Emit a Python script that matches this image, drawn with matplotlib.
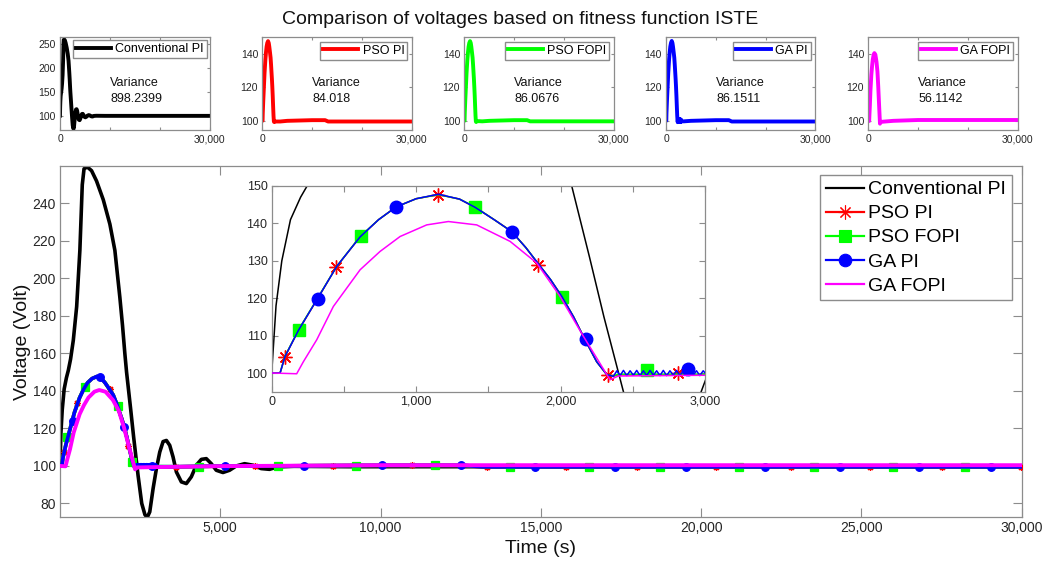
import numpy as np
import matplotlib
matplotlib.use("Agg")
import matplotlib.pyplot as plt
from matplotlib.ticker import FuncFormatter

plt.rcParams['font.family'] = ['Liberation Sans', 'DejaVu Sans']

# ---- data ----
names = ["Conventional PI", "PSO PI", "PSO FOPI", "GA PI", "GA FOPI"]
colors = ["#000000", "#ff0000", "#00ff00", "#0000ff", "#ff00ff"]
variances = ["898.2399", "84.018", "86.0676", "86.1511", "56.1142"]

# Conventional PI
t_conv = [0, 30, 70, 130, 200, 260, 330, 415, 520, 620, 695, 750, 850, 985, 1140, 1350,
          1556, 1712, 1867, 1950, 2023, 2077, 2200, 2300, 2435, 2550, 2650, 2720, 2800,
          2905, 3008, 3112, 3216, 3320, 3423, 3527, 3631, 3786, 3942, 4097, 4253, 4409,
          4564, 4720, 4876, 5083, 5290, 5498, 5757, 6017, 6276, 6535, 6795, 7300, 9000,
          12000, 20000, 30000]
v_conv = [100, 118, 130, 141, 147, 151, 157, 167, 185, 215, 250, 258.5, 259.5, 257.5, 252,
          242, 229, 215, 190, 175, 160, 150, 131, 115, 95, 80, 74, 72.5, 75.5,
          88, 98.6, 107.4, 113, 113.6, 111, 104.8, 96.8, 91.5, 90.6, 94.2, 100.4, 103.5,
          103.9, 101.2, 97.7, 96.5, 97.7, 100, 101.2, 100.4, 98.6, 98.2, 99.5, 99.8, 99.6,
          99.6, 99.6, 99.6]

# optimised controllers, transient part
t_opt = [0, 58, 92, 185, 316, 450, 612, 740, 861, 1000, 1154, 1300, 1408, 1540, 1662,
         1760, 1846, 1930, 2008, 2090, 2169, 2250, 2319, 2365]
v_ga_pi = [100, 100, 104.4, 111.4, 119.8, 128.5, 136.4, 141, 144.4, 146.6, 147.8, 146.5,
           144.3, 141, 137.8, 133.5, 129.2, 125, 120.5, 115, 108.9, 103, 99.6, 99.1]
v_pso_pi = [100, 100, 104.4, 111.4, 119.8, 128.5, 136.4, 141, 144.4, 146.6, 147.7, 146.5,
            144.3, 141, 137.8, 133.5, 129.1, 125, 120.5, 115, 108.9, 103, 99.6, 99.2]
v_pso_fopi = [100, 100, 104.5, 111.5, 119.9, 128.5, 136.5, 141, 144.4, 146.6, 147.7, 146.5,
              144.4, 141, 137.8, 133.5, 129.2, 125, 120.4, 115, 108.9, 103, 99.6, 99.2]

# GA PI ripple after the transient
t_ga_zz = [2390, 2412, 2435, 2458, 2481, 2504, 2527, 2550, 2573, 2596, 2619, 2642, 2665,
           2688, 2711, 2734, 2757, 2780, 2803, 2826, 2849, 2872, 2895, 2918, 2941, 2964,
           2987, 3010]
v_ga_zz = [100.6, 99.3, 100.7, 99.3, 100.6, 99.4, 100.7, 99.3, 100.6, 99.3, 100.7, 99.4,
           100.6, 99.3, 100.7, 99.3, 100.6, 99.4, 100.7, 99.3, 100.6, 99.3, 100.7, 99.4,
           100.6, 99.3, 100.6, 99.6]

# tails (t > 3000)
t_tail = [3600, 5000, 10000, 12600, 13200, 20000, 30000]
v_ga_pi_tail = [99.6, 99.9, 100.3, 100.3, 99.5, 99.5, 99.5]
v_pso_pi_tail = [99.5, 99.9, 100.3, 100.3, 99.5, 99.5, 99.5]
v_pso_fopi_tail = [99.6, 99.9, 100.3, 100.3, 99.6, 99.6, 99.6]
t_pso_flat = [2400, 3000]
v_pso_pi_flat = [99.5, 99.5]
v_pso_fopi_flat = [99.7, 99.7]

# GA FOPI
t_ga_fopi = [0, 173, 219, 312, 427, 612, 750, 889, 1073, 1223, 1419, 1650, 1835, 1996,
             2158, 2250, 2342, 2365, 2400, 3000, 5000, 10000, 20000, 30000]
v_ga_fopi = [100, 99.8, 103, 108.9, 117.8, 127.6, 132.5, 136.5, 139.6, 140.5, 139.6, 135.2,
             129.4, 120.5, 109.8, 104, 98.2, 98.6, 99.2, 99.4, 99.9, 100.4, 100.4, 100.4]

# marker positions, main plot
mk_main_t = {
    "PSO PI": [135, 539, 1556, 2127, 3625, 6072, 8519, 10978, 13312, 15790, 18000, 20478,
               22790, 25270, 27519, 29978],
    "PSO FOPI": [230, 788, 1805, 2250, 4331, 6800, 9228, 11697, 14040, 16500, 18728, 21187,
                 23518, 25978, 28228],
    "GA PI": [394, 1245, 2002, 2884, 5135, 7603, 10041, 12500, 14831, 17312, 19518, 21987,
              24331, 26790, 29040],
}
mk_main_v = {
    "PSO PI": [107.5, 133.5, 141, 110.5, 99.6, 100, 100.2, 100.3, 99.5, 99.5, 99.5, 99.5,
               99.5, 99.5, 99.5, 99.5],
    "PSO FOPI": [115.5, 142, 132, 102, 99.7, 100, 100.2, 100.3, 99.6, 99.6, 99.6, 99.6,
                 99.6, 99.6, 99.6],
    "GA PI": [124, 147.3, 121, 99.8, 100, 100.1, 100.3, 100.3, 99.5, 99.5, 99.5, 99.5,
              99.5, 99.5, 99.5],
}
# marker positions, inset
mk_ins_t = {
    "PSO PI": [92, 445, 1150, 1845, 2325, 2815],
    "PSO FOPI": [188, 618, 1410, 2010, 2600],
    "GA PI": [320, 860, 1665, 2175, 2885],
}
mk_ins_v = {
    "PSO PI": [104.4, 128.3, 147.6, 129, 99.5, 100],
    "PSO FOPI": [111.5, 136.5, 144.5, 120.4, 100.7],
    "GA PI": [119.9, 144.5, 137.8, 109, 101.2],
}
asterisk = (8, 2, 0)
markers = {"PSO PI": asterisk, "PSO FOPI": "s", "GA PI": "o"}

series = {
    "Conventional PI": (t_conv, v_conv),
    "PSO PI": (t_opt + t_pso_flat + t_tail, v_pso_pi + v_pso_pi_flat + v_pso_pi_tail),
    "PSO FOPI": (t_opt + t_pso_flat + t_tail, v_pso_fopi + v_pso_fopi_flat + v_pso_fopi_tail),
    "GA PI": (t_opt + t_ga_zz + t_tail, v_ga_pi + v_ga_zz + v_ga_pi_tail),
    "GA FOPI": (t_ga_fopi, v_ga_fopi),
}

frame = "#8c8c8c"
txt = "#262626"
comma = FuncFormatter(lambda x, p: f"{int(x):,}")


def style(ax, ticklen, fs):
    for s in ax.spines.values():
        s.set_color(frame)
        s.set_linewidth(0.9)
    ax.tick_params(direction="in", length=ticklen, width=0.8, color=frame,
                   labelcolor=txt, labelsize=fs, top=True, right=True, pad=3)


fig = plt.figure(figsize=(10.47, 5.65), dpi=100)
fig.text(0.497, 0.966, "Comparison of voltages based on fitness function ISTE",
         ha="center", va="center", fontsize=14, color="#111111")

# ---- small panels ----
lefts = [60, 262.3, 464.3, 666, 868.3]
for i, name in enumerate(names):
    ax = fig.add_axes([lefts[i] / 1047, 0.7699, 149.5 / 1047, 0.1641])
    t, v = series[name]
    ax.plot(t, v, color=colors[i], lw=2.8, label=name, solid_joinstyle="round")
    ax.set_xlim(0, 30000)
    if i == 0:
        ax.set_ylim(70, 264)
        ax.set_yticks([100, 150, 200, 250])
    else:
        ax.set_ylim(94.4, 150)
        ax.set_yticks([100, 120, 140])
    ax.set_xticks([0, 10000, 20000, 30000])
    ax.set_xticklabels(["0", "", "", "30,000"])
    style(ax, 2.5, 7.5)
    ax.text(0.335, 0.42, "Variance\n" + variances[i], transform=ax.transAxes,
            fontsize=9, color="#111111", va="center", ha="left", linespacing=1.35)
    ax.legend(loc="upper right", fontsize=9, handlelength=2.8, handletextpad=0.35,
              borderpad=0.25, borderaxespad=0.35 if i else 0.2, fancybox=False,
              edgecolor=frame, framealpha=1)

# ---- main panel ----
ax = fig.add_axes([0.0573, 0.0844, 0.9185, 0.6218])
handles = []
for i, name in enumerate(names):
    t, v = series[name]
    lw = 2.6 if name != "GA FOPI" else 2.8
    ax.plot(t, v, color=colors[i], lw=lw, zorder=2 + i)
    if name in markers:
        ms = 5 if name == "PSO PI" else 5.5
        ax.plot(mk_main_t[name], mk_main_v[name], ls="none", marker=markers[name],
                color=colors[i], ms=ms, mew=0.9, zorder=2 + i)
    h, = ax.plot([], [], color=colors[i], lw=1.6,
                 marker=markers.get(name, None), ms=9 if name != "PSO PI" else 10,
                 markeredgewidth=0.8)
    handles.append(h)
ax.set_xlim(0, 30000)
ax.set_ylim(72.6, 260)
ax.set_xticks([5000, 10000, 15000, 20000, 25000, 30000])
ax.xaxis.set_major_formatter(comma)
ax.set_yticks(range(80, 241, 20))
style(ax, 6.5, 10)
ax.set_xlabel("Time (s)", fontsize=14, color="#111111", labelpad=3)
ax.set_ylabel("Voltage (Volt)", fontsize=14, color="#111111", labelpad=1)
fig.legend(handles, names, loc="upper right", bbox_to_anchor=(1012 / 1047, 1 - 175 / 565),
           fontsize=14, handlelength=2.0, handletextpad=0.2, labelspacing=0.33,
           borderpad=0.3, borderaxespad=0, fancybox=False, edgecolor=frame, framealpha=1)

# ---- inset ----
ins = fig.add_axes([0.2595, 0.3067, 0.4139, 0.3641])
for i, name in enumerate(names):
    t, v = series[name]
    ins.plot(t, v, color=colors[i], lw=1.1, zorder=2 + i)
    if name in markers:
        ms = 10 if name == "PSO PI" else 9
        ins.plot(mk_ins_t[name], mk_ins_v[name], ls="none", marker=markers[name],
                 color=colors[i], ms=ms, mew=1.0, zorder=2 + i)
ins.set_xlim(0, 3000)
ins.set_ylim(95, 150)
ins.set_xticks([0, 500, 1000, 1500, 2000, 2500, 3000])
ins.set_xticklabels(["0", "", "1,000", "", "2,000", "", "3,000"])
ins.set_yticks(range(100, 151, 10))
style(ins, 4, 9)

fig.savefig("out.png", dpi=100)
